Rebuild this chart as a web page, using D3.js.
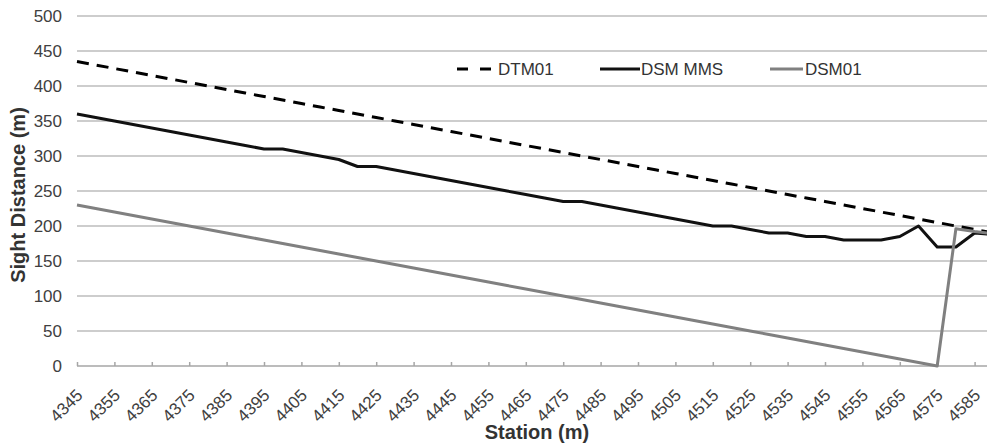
<!DOCTYPE html>
<html>
<head>
<meta charset="utf-8">
<script src="https://cdn.jsdelivr.net/npm/d3@7"></script>
<style>
  html, body { margin: 0; padding: 0; background: #fff; }
  svg { display: block; font-family: Arial, "Liberation Sans", sans-serif; }
</style>
</head>
<body>
<svg id="chart" width="987" height="446"></svg>
<script>
// ---- Data (station in metres, sight distance in metres) ----
const stations = [4345,4350,4355,4360,4365,4370,4375,4380,4385,4390,
                  4395,4400,4405,4410,4415,4420,4425,4430,4435,4440,
                  4445,4450,4455,4460,4465,4470,4475,4480,4485,4490,
                  4495,4500,4505,4510,4515,4520,4525,4530,4535,4540,
                  4545,4550,4555,4560,4565,4570,4575,4580,4585,4590];

const dtm01 = [435,430,425,420,415,410,405,400,395,390,
               385,380,375,370,365,360,355,350,345,340,
               335,330,325,320,315,310,305,300,295,290,
               285,280,275,270,265,260,255,250,245,240,
               235,230,225,220,215,210,205,200,195,190];

const dsmMMS = [360,355,350,345,340,335,330,325,320,315,
                310,310,305,300,295,285,285,280,275,270,
                265,260,255,250,245,240,235,235,230,225,
                220,215,210,205,200,200,195,190,190,185,
                185,180,180,180,185,200,170,170,190,188];

const dsm01 = [230,225,220,215,210,205,200,195,190,185,
               180,175,170,165,160,155,150,145,140,135,
               130,125,120,115,110,105,100,95,90,85,
               80,75,70,65,60,55,50,45,40,35,
               30,25,20,15,10,5,0,196,192,189];

const tickLabels = [4345,4355,4365,4375,4385,4395,4405,4415,4425,4435,
                    4445,4455,4465,4475,4485,4495,4505,4515,4525,4535,
                    4545,4555,4565,4575,4585];
const yTicks = [0,50,100,150,200,250,300,350,400,450,500];

const seriesList = [
  { name: "DTM01",   values: dtm01,  color: "#000000", dash: "12,8" },
  { name: "DSM MMS", values: dsmMMS, color: "#111111", dash: null },
  { name: "DSM01",   values: dsm01,  color: "#808080", dash: null }
];

// ---- Layout ----
const plotLeft = 77, plotRight = 987, plotTop = 16, plotBottom = 366;
const svg = d3.select("#chart");

const x = d3.scaleLinear().domain([4345, 4590]).range([plotLeft, plotLeft + 245 * 3.74]);
const y = d3.scaleLinear().domain([0, 500]).range([plotBottom, plotTop]);

// gridlines
svg.append("g")
  .selectAll("line")
  .data(yTicks.filter(d => d > 0))
  .join("line")
  .attr("x1", plotLeft).attr("x2", plotRight)
  .attr("y1", d => y(d)).attr("y2", d => y(d))
  .attr("stroke", "#bcbcbc").attr("stroke-width", 1.5);

// y axis labels
const yAxis = d3.axisLeft(y).tickValues(yTicks).tickSize(0).tickPadding(15);
const gy = svg.append("g").attr("transform", `translate(${plotLeft},0)`).call(yAxis);
gy.select(".domain").remove();
gy.selectAll("text").attr("font-size", 17).attr("fill", "#404040")
  .attr("font-family", "Arial, 'Liberation Sans', sans-serif");

// x axis (inner ticks)
const xAxis = d3.axisBottom(x).tickValues(tickLabels).tickSize(-4).tickFormat(d3.format("d")).tickSizeOuter(0);
const gx = svg.append("g").attr("transform", `translate(0,${plotBottom})`).call(xAxis);
gx.select(".domain").attr("d", `M${plotLeft},0H${plotRight}`).attr("stroke", "#a6a6a6").attr("stroke-width", 1.5);
gx.selectAll(".tick line").attr("stroke", "#a6a6a6").attr("stroke-width", 1.5);
gx.selectAll("text")
  .attr("font-size", 17).attr("fill", "#404040")
  .attr("font-family", "Arial, 'Liberation Sans', sans-serif")
  .attr("text-anchor", "end")
  .attr("dy", "0.35em")
  .attr("transform", "translate(-5,19) rotate(-45)")
  .attr("x", 0).attr("y", 10);

// lines
const line = d3.line().x((d, i) => x(stations[i])).y(d => y(d));
seriesList.forEach(s => {
  svg.append("path")
    .datum(s.values)
    .attr("d", line)
    .attr("fill", "none")
    .attr("stroke", s.color)
    .attr("stroke-width", 3)
    .attr("stroke-linejoin", "round")
    .attr("stroke-dasharray", s.dash);
});

// legend
const legendItems = [
  { s: seriesList[0], x1: 457, x2: 492, tx: 498 },
  { s: seriesList[1], x1: 600, x2: 640, tx: 641 },
  { s: seriesList[2], x1: 770, x2: 803, tx: 805 }
];
const lg = svg.append("g");
legendItems.forEach(it => {
  lg.append("line")
    .attr("x1", it.x1).attr("x2", it.x2).attr("y1", 69).attr("y2", 69)
    .attr("stroke", it.s.color).attr("stroke-width", 3)
    .attr("stroke-dasharray", it.s.dash ? "11,12" : null);
  lg.append("text")
    .attr("x", it.tx).attr("y", 69).attr("dy", "0.35em")
    .attr("font-size", 17).attr("fill", "#333")
    .text(it.s.name);
});

// axis titles
svg.append("text")
  .attr("transform", `translate(25,195) rotate(-90)`)
  .attr("text-anchor", "middle")
  .attr("font-size", 20).attr("font-weight", "bold").attr("fill", "#333")
  .text("Sight Distance (m)");

svg.append("text")
  .attr("x", 537).attr("y", 439)
  .attr("text-anchor", "middle")
  .attr("font-size", 20).attr("font-weight", "bold").attr("fill", "#333")
  .text("Station (m)");
</script>
</body>
</html>
